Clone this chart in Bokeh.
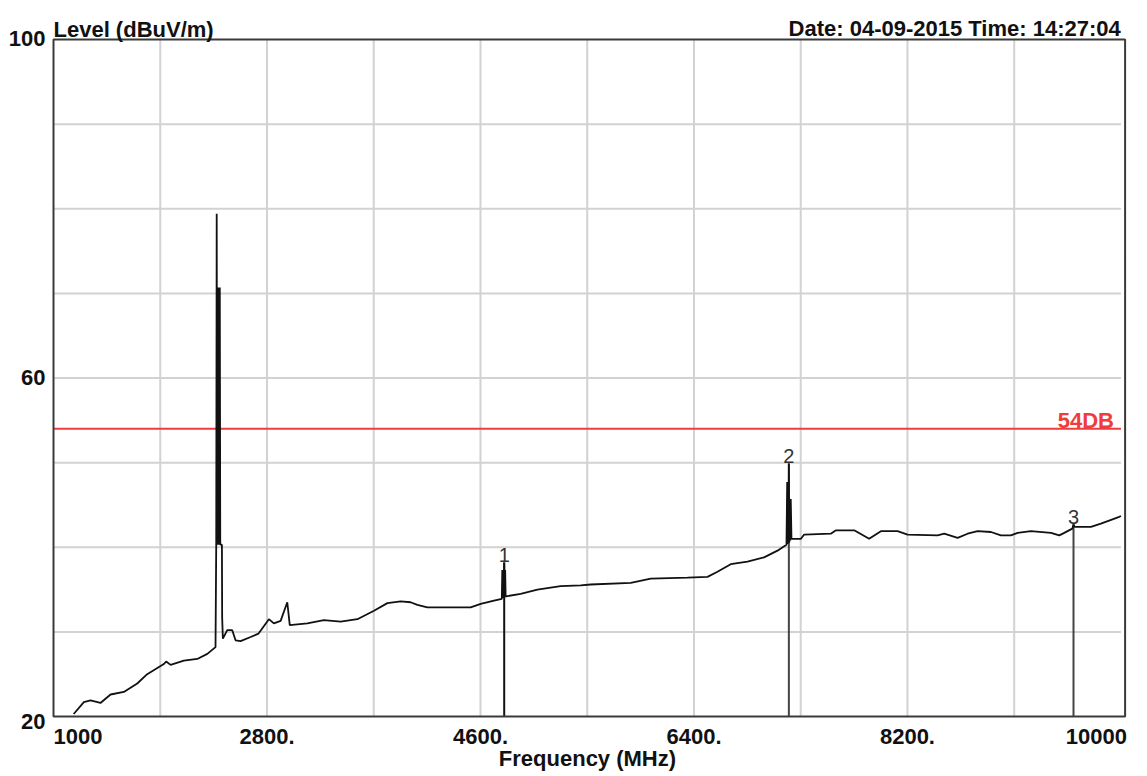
from bokeh.plotting import figure
from bokeh.models import Range1d, Label, Grid
from bokeh.embed import file_html
from bokeh.resources import INLINE

# ---- Spectrum trace: frequency (MHz) and field level (dBuV/m) ----
freq_mhz = [
    1170, 1256, 1312, 1396, 1481, 1593, 1706, 1790, 1930, 1950, 1987, 2099, 2212, 2297, 2366,
    # carrier around 2.4 GHz
    2372, 2376, 2380, 2386, 2390, 2394, 2398, 2402, 2406, 2412, 2420, 2422,
    2428, 2465, 2507, 2535, 2577, 2662, 2729, 2816, 2858, 2915, 2971, 2992,
    3140, 3280, 3421, 3562, 3702, 3815, 3927, 4011, 4068, 4152, 4517, 4602, 4714, 4780,
    # 2nd harmonic
    4784, 4788, 4792, 4796, 4800, 4804, 4808, 4812, 4816,
    4939, 5080, 5276, 5445, 5529, 5867, 6036, 6345, 6514, 6598, 6710, 6851, 6991, 7104, 7180,
    # 3rd harmonic
    7186, 7190, 7194, 7198, 7200, 7204, 7208, 7212, 7216, 7222,
    7302, 7329, 7554, 7597, 7751, 7877, 7976, 8117, 8201, 8454, 8510, 8623, 8707, 8791,
    8904, 8988, 9072, 9129, 9241, 9410, 9480, 9522, 9590, 9600, 9610, 9663, 9747, 9831,
    9986, 10000,
]
level_dbuv = [
    20.3, 21.7, 21.9, 21.6, 22.6, 22.9, 23.9, 25.0, 26.2, 26.5, 26.1, 26.6, 26.8, 27.4, 28.2,
    40.3, 79.4, 40.3, 70.7, 40.3, 70.7, 40.3, 70.7, 40.3, 40.3, 40.3, 31.7,
    29.2, 30.2, 30.2, 29.0, 28.9, 29.4, 29.8, 31.5, 31.0, 31.3, 33.5, 30.8,
    31.0, 31.4, 31.2, 31.5, 32.5, 33.4, 33.6, 33.5, 33.2, 32.9, 32.9, 33.3, 33.7, 33.9,
    37.3, 34.0, 37.3, 34.0, 38.2, 34.1, 37.3, 34.2, 34.2,
    34.5, 35.0, 35.4, 35.5, 35.6, 35.8, 36.3, 36.4, 36.5, 37.1, 38.0, 38.3, 38.8, 39.6, 40.3,
    47.7, 40.4, 47.7, 40.5, 49.9, 40.6, 45.7, 40.8, 45.7, 41.0,
    41.0, 41.5, 41.6, 42.0, 42.0, 41.0, 41.9, 41.9, 41.5, 41.4, 41.6, 41.1, 41.6, 41.9,
    41.8, 41.4, 41.4, 41.7, 41.9, 41.7, 41.4, 41.7, 42.2, 42.7, 42.4, 42.4, 42.4, 42.8,
    43.6, 43.7,
]

# ---- Markers ----
marker_ids = ["1", "2", "3"]
marker_freq = [4800, 7200, 9600]
marker_level = [38.2, 49.9, 42.7]
marker_colors = ["#111111", "#444444", "#444444"]

# ---- Limit line ----
limit_level = 54
limit_text = "54DB"

# ---- Scale / ticks ----
f_min, f_max = 1000, 10000
lvl_min, lvl_max = 20, 100
x_ticks = [1000, 2800, 4600, 6400, 8200, 10000]
x_tick_labels = ["1000", "2800.", "4600.", "6400.", "8200.", "10000"]
x_tick_align = ["left", "center", "center", "center", "center", "right"]
y_ticks = [100, 60, 20]
y_tick_labels = ["100", "60", "20"]
x_grid_lines = [1900, 2800, 3700, 4600, 5500, 6400, 7300, 8200, 9100]
y_grid_lines = [30, 40, 50, 60, 70, 80, 90]

title_left = "Level (dBuV/m)"
title_right = "Date: 04-09-2015  Time: 14:27:04"
x_title = "Frequency (MHz)"

FONT = "Liberation Sans"
INK = "#111111"

# The drawing area covers the whole page; the ranges are padded so that the
# measurement box (1000-10000 MHz, 20-100 dBuV/m) sits inside with room for text.
p = figure(
    width=1147, height=776,
    x_range=Range1d(553.1, 10223.9), y_range=Range1d(12.91, 104.61),
    x_axis_location=None, y_axis_location=None,
    toolbar_location=None, output_backend="svg",
    min_border=0, min_border_left=0, min_border_right=0,
    min_border_top=0, min_border_bottom=0,
    background_fill_color="white", border_fill_color="white",
    outline_line_color=None,
)
p.center = [c for c in p.center if not isinstance(c, Grid)]

box_right = 10035  # outer border sits a few pixels past the last grid column

# grid
p.segment(x0=x_grid_lines, y0=[lvl_min] * len(x_grid_lines),
          x1=x_grid_lines, y1=[lvl_max] * len(x_grid_lines),
          line_color="#d2d2d2", line_width=2)
p.segment(x0=[f_min] * len(y_grid_lines), y0=y_grid_lines,
          x1=[f_max] * len(y_grid_lines), y1=y_grid_lines,
          line_color="#d2d2d2", line_width=2)

# limit line
p.segment(x0=[f_min], y0=[limit_level], x1=[f_max], y1=[limit_level],
          line_color="#f03c3c", line_width=2)
p.add_layout(Label(x=f_max, y=limit_level + 1.0, text=limit_text, text_align="right",
                   x_offset=-7, text_baseline="alphabetic", text_color="#f03c3c",
                   text_font=FONT, text_font_style="bold", text_font_size="22px"))

# marker lines
p.segment(x0=marker_freq, y0=[lvl_min] * len(marker_freq), x1=marker_freq, y1=marker_level,
          line_color=marker_colors, line_width=2)

# trace
p.line(freq_mhz, level_dbuv, line_color=INK, line_width=1.8)

# outer border
p.quad(left=[f_min], right=[box_right], bottom=[lvl_min], top=[lvl_max],
       fill_color=None, line_color="#3a3a3a", line_width=2)

# marker labels
for mid, mf, ml in zip(marker_ids, marker_freq, marker_level):
    p.add_layout(Label(x=mf, y=ml + 0.9, text=mid, text_align="center",
                       text_baseline="alphabetic", text_color="#333333",
                       text_font=FONT, text_font_size="20px"))

# x tick labels
for xt, lab, al in zip(x_ticks, x_tick_labels, x_tick_align):
    off = 6 if al == "right" else 0
    p.add_layout(Label(x=xt, y=17.6, text=lab, text_align=al, x_offset=off,
                       text_baseline="alphabetic", text_color=INK,
                       text_font=FONT, text_font_style="bold", text_font_size="22px"))

# y tick labels
for yt, lab in zip(y_ticks, y_tick_labels):
    yy = yt - 0.6 if yt == lvl_min else yt + 0.1
    p.add_layout(Label(x=f_min, y=yy, text=lab, text_align="right", x_offset=-8,
                       text_baseline="middle", text_color=INK,
                       text_font=FONT, text_font_style="bold", text_font_size="22px"))

# titles
p.add_layout(Label(x=f_min, y=101.2, text=title_left, text_align="left",
                   text_baseline="alphabetic", text_color=INK,
                   text_font=FONT, text_font_style="bold", text_font_size="22px"))
p.add_layout(Label(x=10050, y=101.35, text=title_right, text_align="right",
                   text_baseline="alphabetic", text_color=INK,
                   text_font=FONT, text_font_style="bold", text_font_size="22px"))
p.add_layout(Label(x=5502, y=15.0, text=x_title, text_align="center",
                   text_baseline="alphabetic", text_color=INK,
                   text_font=FONT, text_font_style="bold", text_font_size="22px"))

open("out.html", "w").write(file_html(p, INLINE))
